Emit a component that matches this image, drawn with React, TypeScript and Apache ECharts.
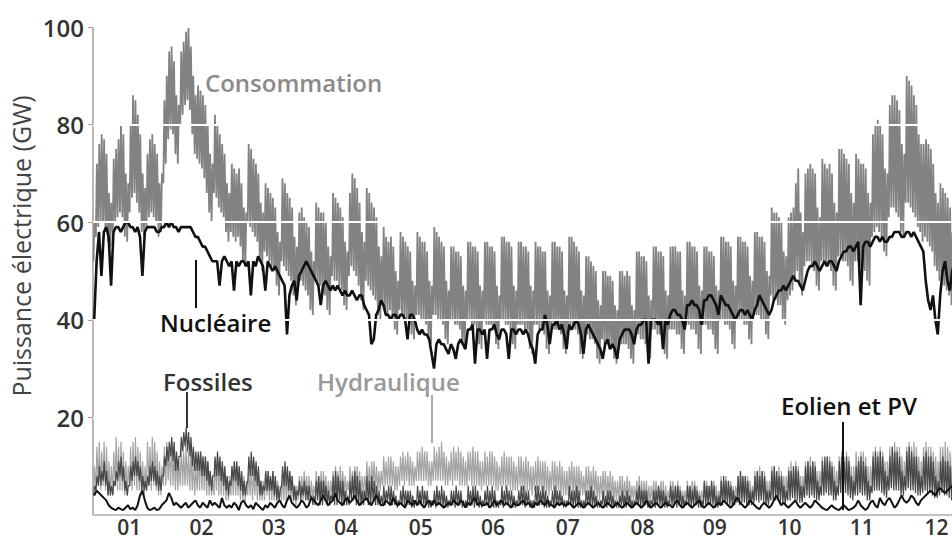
import React, { useEffect, useRef } from "react";
import * as echarts from "echarts";

// ---- axis labels ----
const monthLabels = ["01", "02", "03", "04", "05", "06", "07", "08", "09", "10", "11", "12"];
const monthMidDays = [15, 45, 75, 105, 136, 166, 197, 228, 258, 289, 319, 350];
const gridValues = [20, 40, 60, 80, 100];

// ---- daily data (day 0 = 1 Jan, then rows Mon..Sun) ----
const consHi = [60,
  72, 76, 78, 77, 74, 66, 64,
  73, 75, 77, 80, 78, 70, 68,
  80, 86, 85, 82, 78, 70, 67,
  74, 77, 78, 76, 74, 68, 70,
  85, 90, 95, 96, 93, 86, 84,
  95, 97, 99, 100, 96, 90, 86,
  88, 87, 86, 84, 80, 74, 72,
  82, 80, 78, 76, 74, 68, 66,
  72, 71, 70, 71, 68, 63, 62,
  76, 75, 73, 72, 70, 64, 62,
  68, 67, 66, 65, 63, 58, 56,
  69, 68, 66, 65, 63, 57, 55,
  62, 63, 61, 60, 59, 54, 52,
  64, 63, 62, 62, 60, 55, 53,
  66, 65, 64, 63, 61, 56, 54,
  66, 70, 69, 67, 64, 58, 56,
  67, 66, 64, 63, 61, 55, 53,
  59, 57, 56, 57, 55, 50, 48,
  58, 57, 56, 55, 54, 48, 47,
  58, 57, 56, 56, 54, 48, 47,
  59, 58, 57, 56, 55, 48, 46,
  55, 55, 54, 54, 53, 47, 46,
  56, 56, 55, 55, 54, 47, 46,
  56, 56, 55, 55, 54, 47, 45,
  57, 57, 56, 56, 55, 47, 46,
  56, 56, 55, 55, 54, 47, 46,
  56, 55, 55, 54, 54, 46, 45,
  56, 56, 55, 55, 54, 46, 45,
  57, 57, 56, 55, 54, 46, 45,
  53, 53, 52, 51, 50, 44, 43,
  50, 50, 49, 49, 48, 43, 42,
  50, 50, 49, 50, 49, 43, 42,
  54, 54, 53, 53, 52, 45, 44,
  55, 55, 54, 54, 53, 46, 45,
  55, 55, 55, 54, 54, 46, 45,
  56, 56, 55, 55, 54, 47, 46,
  55, 55, 54, 54, 53, 47, 46,
  57, 57, 56, 56, 55, 48, 47,
  57, 57, 56, 56, 55, 49, 48,
  58, 58, 57, 57, 56, 50, 49,
  63, 62, 62, 61, 60, 54, 53,
  61, 62, 63, 68, 71, 62, 58,
  70, 71, 72, 71, 70, 63, 61,
  73, 72, 71, 72, 70, 64, 62,
  75, 75, 74, 73, 72, 66, 64,
  74, 73, 72, 72, 71, 66, 64,
  78, 80, 81, 80, 78, 71, 70,
  84, 86, 86, 85, 83, 76, 74,
  90, 89, 88, 86, 84, 78, 76,
  76, 77, 76, 75, 72, 66, 64,
  68, 67, 66, 65, 63, 58, 56];

const consLo = [52,
  57, 59, 60, 60, 58, 56, 55,
  58, 60, 61, 62, 61, 57, 56,
  62, 65, 66, 64, 62, 58, 57,
  59, 61, 62, 61, 60, 57, 58,
  68, 72, 77, 79, 78, 74, 72,
  80, 82, 84, 85, 83, 78, 74,
  73, 72, 71, 69, 66, 62, 60,
  66, 65, 63, 62, 61, 58, 56,
  58, 57, 56, 57, 55, 52, 51,
  60, 59, 58, 57, 56, 52, 50,
  54, 53, 52, 51, 50, 47, 45,
  52, 51, 50, 49, 48, 45, 43,
  47, 48, 47, 46, 45, 42, 41,
  48, 47, 47, 46, 45, 42, 41,
  49, 48, 48, 47, 46, 43, 42,
  49, 51, 50, 49, 47, 44, 42,
  48, 47, 46, 45, 44, 41, 40,
  43, 42, 41, 42, 41, 38, 37,
  42, 41, 40, 40, 39, 37, 36,
  41, 41, 40, 40, 39, 36, 35,
  41, 41, 40, 40, 39, 36, 35,
  40, 40, 39, 39, 38, 35, 34,
  40, 40, 39, 39, 38, 35, 34,
  40, 39, 39, 39, 38, 35, 34,
  40, 40, 39, 39, 38, 35, 34,
  39, 39, 39, 38, 38, 34, 33,
  39, 39, 38, 38, 37, 34, 33,
  39, 38, 38, 38, 37, 34, 33,
  39, 39, 38, 38, 37, 33, 32,
  37, 37, 36, 36, 35, 32, 31,
  36, 35, 35, 35, 34, 32, 31,
  36, 35, 35, 35, 34, 32, 31,
  37, 37, 36, 36, 35, 33, 32,
  38, 38, 37, 37, 36, 33, 32,
  38, 38, 38, 37, 37, 34, 33,
  39, 39, 38, 38, 37, 34, 33,
  39, 39, 38, 38, 37, 34, 33,
  40, 40, 39, 39, 38, 35, 34,
  41, 40, 40, 39, 39, 36, 35,
  42, 41, 41, 40, 40, 37, 36,
  45, 44, 44, 43, 43, 40, 39,
  44, 45, 46, 48, 50, 47, 45,
  51, 52, 52, 51, 50, 47, 46,
  52, 52, 51, 51, 50, 47, 46,
  53, 53, 52, 52, 51, 48, 47,
  52, 52, 51, 51, 50, 48, 47,
  57, 58, 59, 58, 57, 54, 53,
  61, 63, 63, 62, 61, 58, 57,
  64, 64, 63, 62, 61, 59, 58,
  56, 57, 56, 55, 54, 51, 50,
  48, 48, 47, 46, 45, 43, 41];

const nuclear = [40,
  52, 58, 49, 58, 59, 57, 47,
  58, 59, 59, 58, 59, 60, 60,
  59, 59, 58, 59, 57, 49, 58,
  59, 59, 59, 59, 58, 58, 59,
  59, 60, 59, 60, 59, 59, 58,
  59, 59, 59, 59, 59, 58, 57,
  57, 56, 55, 55, 54, 53, 52,
  52, 52, 47, 52, 53, 52, 51,
  52, 46, 52, 51, 52, 52, 51,
  52, 45, 52, 51, 53, 52, 51,
  46, 52, 51, 50, 51, 50, 49,
  48, 47, 37, 45, 47, 48, 44,
  49, 50, 51, 52, 51, 50, 49,
  48, 47, 43, 47, 48, 47, 46,
  47, 46, 47, 46, 45, 46, 45,
  45, 46, 45, 44, 45, 45, 43,
  42, 41, 35, 36, 41, 42, 44,
  43, 41, 41, 40, 41, 41, 40,
  41, 41, 40, 36, 41, 41, 40,
  38, 37, 38, 37, 37, 36, 33,
  30, 35, 36, 35, 35, 34, 33,
  35, 34, 32, 35, 36, 35, 34,
  38, 38, 39, 31, 38, 38, 37,
  38, 32, 38, 38, 39, 37, 36,
  38, 38, 37, 32, 38, 38, 37,
  38, 38, 37, 38, 37, 35, 34,
  31, 37, 38, 38, 41, 39, 35,
  39, 39, 40, 38, 39, 37, 34,
  39, 38, 39, 40, 39, 37, 33,
  38, 39, 38, 37, 36, 35, 34,
  32, 35, 36, 34, 35, 34, 32,
  36, 37, 38, 38, 38, 37, 35,
  38, 39, 39, 40, 40, 31, 40,
  40, 40, 39, 40, 34, 40, 39,
  41, 42, 42, 41, 41, 40, 38,
  43, 43, 44, 43, 43, 42, 39,
  44, 44, 45, 45, 44, 43, 41,
  45, 44, 43, 43, 42, 41, 40,
  41, 42, 42, 41, 42, 41, 40,
  42, 43, 45, 44, 43, 42, 41,
  42, 44, 45, 46, 46, 47, 46,
  47, 48, 49, 48, 48, 47, 46,
  48, 50, 51, 51, 52, 51, 50,
  51, 52, 51, 52, 52, 51, 50,
  52, 53, 54, 54, 55, 55, 54,
  55, 56, 43, 55, 56, 56, 55,
  56, 57, 57, 56, 57, 56, 56,
  57, 57, 58, 58, 58, 57, 57,
  58, 58, 57, 58, 57, 56, 55,
  54, 48, 44, 42, 45, 40, 37,
  45, 50, 52, 48, 46, 50, 52];

const hydroHi = [10,
  14, 15, 13, 15, 14, 11, 10,
  13, 16, 14, 15, 13, 11, 10,
  14, 15, 16, 14, 13, 11, 10,
  15, 14, 16, 15, 13, 11, 10,
  14, 15, 14, 15, 13, 12, 11,
  14, 13, 14, 13, 13, 11, 10,
  12, 13, 12, 12, 11, 9, 8,
  11, 12, 11, 10, 10, 8, 8,
  10, 11, 10, 10, 9, 8, 7,
  9, 10, 9, 10, 9, 7, 7,
  9, 9, 8, 9, 8, 7, 6,
  8, 9, 8, 8, 8, 6, 6,
  8, 8, 9, 8, 8, 7, 6,
  9, 8, 9, 9, 8, 7, 7,
  9, 10, 9, 10, 9, 8, 7,
  10, 9, 10, 10, 9, 8, 8,
  11, 10, 11, 11, 10, 9, 9,
  12, 11, 12, 12, 11, 10, 10,
  12, 13, 12, 13, 12, 11, 10,
  13, 13, 14, 13, 13, 11, 11,
  14, 13, 14, 15, 13, 12, 11,
  13, 14, 13, 14, 13, 12, 11,
  13, 13, 14, 13, 13, 11, 11,
  13, 12, 13, 13, 12, 11, 10,
  12, 13, 12, 12, 12, 11, 10,
  12, 12, 11, 12, 11, 10, 10,
  11, 12, 11, 11, 11, 10, 9,
  11, 11, 10, 11, 10, 9, 9,
  10, 11, 10, 10, 10, 9, 8,
  10, 10, 9, 10, 9, 8, 8,
  9, 9, 8, 9, 8, 7, 7,
  8, 8, 7, 8, 7, 6, 6,
  7, 8, 7, 7, 7, 6, 6,
  7, 7, 6, 7, 7, 6, 5,
  7, 7, 6, 7, 6, 5, 5,
  7, 6, 7, 7, 6, 5, 5,
  7, 7, 6, 7, 7, 6, 5,
  8, 7, 8, 7, 7, 6, 6,
  8, 9, 8, 8, 8, 7, 6,
  9, 9, 10, 9, 9, 7, 7,
  10, 10, 9, 10, 9, 8, 8,
  10, 11, 10, 11, 10, 8, 8,
  11, 11, 12, 11, 11, 9, 9,
  12, 11, 12, 12, 11, 10, 9,
  12, 13, 12, 13, 12, 10, 10,
  13, 12, 13, 13, 12, 10, 10,
  13, 14, 13, 14, 13, 11, 11,
  14, 14, 15, 14, 14, 12, 11,
  14, 15, 14, 15, 14, 12, 11,
  14, 15, 14, 14, 13, 12, 11,
  14, 14, 15, 14, 13, 12, 11];

const hydroLo = [5,
  5, 6, 5, 6, 5, 4, 4,
  5, 6, 5, 5, 5, 4, 4,
  6, 5, 6, 5, 5, 4, 4,
  5, 6, 5, 6, 5, 4, 4,
  6, 6, 7, 6, 6, 5, 5,
  6, 6, 6, 6, 5, 5, 4,
  5, 5, 5, 5, 4, 4, 4,
  4, 5, 4, 4, 4, 3, 3,
  4, 4, 4, 4, 3, 3, 3,
  4, 4, 3, 4, 3, 3, 3,
  3, 4, 3, 3, 3, 3, 3,
  3, 3, 3, 3, 3, 3, 2,
  3, 4, 3, 4, 3, 3, 3,
  4, 4, 4, 4, 4, 3, 3,
  4, 4, 4, 5, 4, 4, 4,
  5, 4, 5, 5, 5, 4, 4,
  5, 5, 5, 6, 5, 5, 5,
  6, 6, 6, 6, 6, 5, 5,
  6, 7, 6, 7, 6, 6, 6,
  7, 7, 7, 7, 7, 6, 6,
  7, 7, 7, 7, 7, 6, 6,
  7, 6, 7, 7, 6, 6, 6,
  6, 7, 6, 6, 6, 6, 5,
  6, 6, 6, 6, 6, 5, 5,
  6, 6, 5, 6, 5, 5, 5,
  5, 6, 5, 5, 5, 5, 4,
  5, 5, 5, 5, 5, 4, 4,
  5, 5, 4, 5, 4, 4, 4,
  4, 5, 4, 4, 4, 4, 4,
  4, 4, 4, 4, 4, 3, 3,
  4, 4, 3, 4, 3, 3, 3,
  3, 3, 3, 3, 3, 3, 3,
  3, 3, 3, 3, 3, 2, 2,
  3, 3, 3, 3, 3, 2, 2,
  3, 3, 3, 3, 3, 2, 2,
  3, 3, 3, 3, 3, 2, 2,
  3, 3, 3, 3, 3, 3, 2,
  3, 3, 3, 3, 3, 3, 3,
  4, 3, 4, 4, 3, 3, 3,
  4, 4, 4, 4, 4, 3, 3,
  4, 4, 4, 4, 4, 4, 3,
  4, 5, 4, 5, 4, 4, 4,
  5, 5, 5, 5, 5, 4, 4,
  5, 5, 5, 5, 5, 4, 4,
  5, 5, 5, 6, 5, 5, 4,
  5, 6, 5, 5, 5, 5, 4,
  6, 5, 6, 6, 5, 5, 5,
  6, 6, 6, 6, 6, 5, 5,
  6, 6, 6, 6, 6, 5, 5,
  6, 6, 5, 6, 6, 5, 5,
  5, 6, 5, 5, 5, 5, 5];

const fossilHi = [6,
  8, 10, 9, 11, 9, 7, 6,
  7, 9, 11, 12, 10, 7, 6,
  10, 11, 12, 11, 10, 8, 7,
  8, 10, 11, 10, 9, 8, 8,
  12, 14, 15, 16, 15, 13, 12,
  16, 17, 18, 17, 16, 14, 13,
  13, 13, 12, 12, 11, 9, 8,
  12, 13, 12, 11, 10, 8, 7,
  10, 11, 11, 10, 9, 7, 6,
  12, 13, 12, 11, 10, 7, 6,
  9, 9, 8, 9, 8, 6, 5,
  10, 11, 10, 9, 8, 6, 5,
  7, 6, 7, 6, 6, 4, 4,
  7, 8, 7, 7, 6, 5, 4,
  8, 9, 8, 7, 7, 5, 4,
  7, 8, 9, 8, 7, 5, 5,
  8, 7, 8, 7, 6, 5, 4,
  6, 5, 6, 6, 5, 4, 3,
  5, 6, 5, 5, 5, 4, 3,
  6, 5, 6, 5, 5, 3, 3,
  5, 6, 5, 6, 5, 4, 3,
  5, 5, 6, 5, 5, 3, 3,
  6, 5, 6, 6, 5, 4, 3,
  5, 6, 5, 6, 5, 3, 3,
  6, 5, 6, 5, 5, 4, 3,
  5, 6, 6, 5, 5, 3, 3,
  6, 6, 5, 6, 5, 4, 3,
  5, 6, 5, 5, 4, 3, 3,
  6, 5, 5, 6, 5, 3, 3,
  5, 5, 6, 5, 4, 3, 3,
  5, 4, 5, 5, 4, 3, 3,
  4, 5, 4, 5, 4, 3, 3,
  5, 6, 5, 5, 5, 3, 3,
  5, 5, 6, 5, 5, 4, 3,
  6, 5, 6, 6, 5, 4, 3,
  6, 6, 5, 6, 5, 4, 3,
  7, 6, 6, 7, 6, 4, 4,
  7, 8, 7, 7, 6, 5, 4,
  8, 9, 8, 8, 7, 5, 5,
  8, 9, 8, 9, 8, 5, 5,
  9, 10, 9, 8, 8, 6, 5,
  9, 9, 10, 10, 9, 6, 6,
  10, 11, 10, 11, 10, 7, 6,
  11, 12, 12, 11, 10, 7, 6,
  11, 12, 11, 12, 11, 8, 7,
  10, 11, 12, 11, 10, 7, 6,
  12, 13, 12, 13, 12, 9, 8,
  12, 14, 13, 13, 12, 9, 8,
  13, 14, 13, 12, 12, 9, 8,
  12, 13, 12, 12, 11, 8, 7,
  11, 12, 11, 11, 10, 7, 6];

const fossilLo = [4,
  5, 6, 6, 7, 6, 4, 4,
  4, 6, 7, 8, 7, 5, 4,
  6, 7, 8, 8, 7, 5, 5,
  5, 6, 7, 7, 6, 5, 5,
  8, 10, 11, 12, 11, 9, 9,
  12, 13, 14, 13, 12, 10, 9,
  9, 9, 8, 8, 7, 6, 5,
  8, 8, 8, 7, 6, 5, 4,
  6, 7, 7, 6, 5, 4, 4,
  7, 8, 8, 7, 6, 4, 4,
  5, 5, 5, 5, 4, 3, 3,
  6, 6, 6, 5, 5, 3, 3,
  4, 3, 4, 3, 3, 3, 2,
  2, 3, 2, 2, 3, 2, 2,
  3, 2, 2, 3, 2, 2, 2,
  2, 3, 3, 2, 2, 2, 2,
  3, 2, 2, 3, 2, 2, 2,
  2, 2, 3, 2, 2, 2, 1.5,
  2, 2, 2, 2, 2, 1.5, 1.5,
  2, 2, 2, 2, 2, 1.5, 1.5,
  2, 1.5, 2, 2, 1.5, 1.5, 1.5,
  2, 2, 1.5, 2, 2, 1.5, 1.5,
  1.5, 2, 2, 1.5, 2, 1.5, 1.5,
  2, 2, 1.5, 2, 1.5, 1.5, 1.5,
  2, 1.5, 2, 2, 2, 1.5, 1.5,
  2, 2, 2, 1.5, 2, 1.5, 1.5,
  1.5, 2, 2, 2, 1.5, 1.5, 1.5,
  2, 1.5, 2, 2, 2, 1.5, 1.5,
  2, 2, 1.5, 2, 1.5, 1.5, 1.5,
  1.5, 2, 2, 1.5, 2, 1.5, 1.5,
  2, 1.5, 1.5, 2, 1.5, 1.5, 1.5,
  1.5, 2, 1.5, 1.5, 2, 1.5, 1.5,
  2, 2, 1.5, 2, 2, 1.5, 1.5,
  2, 1.5, 2, 2, 1.5, 1.5, 1.5,
  2, 2, 2, 1.5, 2, 1.5, 1.5,
  2, 2, 1.5, 2, 2, 1.5, 1.5,
  2, 2, 2, 2, 2, 1.5, 1.5,
  2, 2, 2.5, 2, 2, 2, 2,
  2.5, 2, 2.5, 2.5, 2, 2, 2,
  2.5, 3, 2.5, 3, 2.5, 2, 2,
  3, 3, 3, 3, 2.5, 2.5, 2,
  3, 3, 3.5, 3, 3, 2.5, 2.5,
  3.5, 4, 3.5, 4, 3.5, 3, 3,
  4, 4, 4.5, 4, 4, 3, 3,
  4, 4.5, 4, 4.5, 4, 3.5, 3,
  4, 4, 4.5, 4, 4, 3, 3,
  4.5, 5, 5, 5, 4.5, 4, 3.5,
  5, 5.5, 5, 5, 5, 4, 4,
  5, 5.5, 5, 5, 4.5, 4, 4,
  4.5, 5, 4.5, 4.5, 4, 3.5, 3.5,
  4, 4.5, 4, 4, 3.5, 3, 3];

const windSolar = [4,
  5, 4.5, 4, 3.5, 3, 2, 1.5,
  1.2, 1, 1.5, 1.2, 1, 1.5, 2,
  1.2, 1.5, 1, 2, 4, 5, 3,
  1.5, 1, 1.2, 1.5, 1, 1.2, 2,
  2.5, 3, 4.5, 3.5, 2, 2.5, 2,
  1.5, 2, 2.5, 1.5, 2, 2.5, 3,
  2, 1.5, 2.5, 2, 1.5, 3, 2,
  2.5, 2, 1.5, 3.5, 2, 1.5, 2,
  1.5, 2.5, 2, 1, 2.5, 3, 2,
  1.5, 2, 1.2, 2.5, 2, 1.5, 1,
  2, 1.5, 2.5, 2, 1.5, 2.5, 3,
  2, 1.5, 3, 4, 2.5, 2, 1.5,
  2, 3, 2.5, 1.5, 2, 3.5, 3,
  2.5, 2, 3, 4, 3, 2, 2.5,
  3, 4.5, 3, 2.5, 2, 3, 3.5,
  2.5, 3, 4, 3, 2, 2.5, 3,
  3.5, 2.5, 2, 3, 4, 3, 2,
  2, 3, 2.5, 2, 3.5, 2.5, 2,
  2.5, 2, 1.5, 3, 2.5, 2, 3,
  2, 3, 2, 1.5, 2.5, 3, 2,
  3, 2, 2.5, 2, 1.5, 2, 2.5,
  2, 3, 2.5, 2, 3, 2.5, 1.5,
  2.5, 2, 3, 3.5, 2, 2.5, 2,
  2, 2.5, 1.5, 2, 3, 2, 2.5,
  3, 2, 2.5, 2, 1.5, 2.5, 2,
  2, 2.5, 3, 2, 2.5, 2, 1.5,
  2.5, 2, 3, 2.5, 2, 3, 2,
  2, 1.5, 2.5, 2, 2.5, 2, 2,
  2.5, 2, 1.5, 2, 2.5, 2, 1.5,
  2, 2.5, 2, 1.5, 2, 2.5, 2,
  1.5, 2, 2.5, 2, 1.5, 2, 2.5,
  2, 1.5, 2, 2.5, 2, 1.5, 2,
  2.5, 2, 1.5, 2, 3, 2, 1.5,
  2, 2.5, 2, 1.5, 2, 2.5, 2,
  2, 1.5, 2.5, 3, 2, 1.5, 2,
  2.5, 2, 1.5, 2, 2.5, 3, 2,
  1.5, 2, 2.5, 2, 1.5, 2, 2.5,
  2, 3, 2.5, 2, 1.5, 2, 3,
  3.5, 2.5, 2, 1.5, 2, 3, 2.5,
  2, 1.5, 1.2, 2, 2.5, 2, 1.5,
  2, 3, 4, 3, 2, 2.5, 2,
  1.5, 2, 2.5, 3, 2, 1.5, 2,
  2.5, 2, 1.5, 2, 3, 2.5, 2,
  1.5, 1.2, 1, 1.5, 2, 1.5, 1.2,
  1, 1.5, 2, 1.5, 1, 1.2, 1.5,
  2, 3, 2, 1.5, 1, 1.5, 2.5,
  3, 2, 1.5, 3.5, 2.5, 2, 3,
  3.5, 2.5, 1.5, 2, 3, 4, 3,
  2.5, 3, 4, 3.5, 2.5, 2, 3,
  3.5, 4, 4.5, 5, 4.5, 4, 5,
  5.5, 5, 4.5, 5, 5.5, 6, 5.5];

const FONT = "'Open Sans', sans-serif";

function dayPairs(lo: number[], hi: number[], tLo: number, tHi: number) {
  const out: number[][] = [];
  const n = Math.min(lo.length, hi.length);
  for (let d = 0; d < n; d++) {
    out.push([d + tLo, lo[d]]);
    out.push([d + tHi, hi[d]]);
  }
  return out;
}

function daily(v: number[], t: number) {
  return v.map((y, d) => [d + t, y]);
}

export default function App() {
  const ref = useRef<HTMLDivElement>(null);

  useEffect(() => {
    if (!ref.current) return;
    const chart = echarts.init(ref.current, undefined, { renderer: "svg" });
    const lineBase = { type: "line", showSymbol: false, symbol: "none", silent: true, clip: true };
    const labelStyle = (text: string, fill: string) => ({
      text,
      fill,
      fontSize: 24,
      fontWeight: 600,
      fontFamily: FONT,
      align: "left",
      verticalAlign: "middle",
    });
    chart.setOption({
      animation: false,
      backgroundColor: "#ffffff",
      grid: { left: 93, right: 0, top: 27, bottom: 27, containLabel: false },
      xAxis: {
        type: "value",
        min: 0,
        max: 356.4,
        axisLine: { show: true, lineStyle: { color: "#c2c2c2", width: 2 } },
        axisTick: { show: false },
        splitLine: { show: false },
        axisLabel: {
          customValues: monthMidDays,
          formatter: (v: number) => {
            const i = monthMidDays.indexOf(Math.round(v));
            return i >= 0 ? monthLabels[i] : "";
          },
          fontSize: 21,
          lineHeight: 21,
          fontWeight: 600,
          fontFamily: FONT,
          color: "#333",
          margin: 1,
        },
      },
      yAxis: {
        type: "value",
        min: 0,
        max: 100,
        interval: 20,
        axisLine: { show: true, lineStyle: { color: "#a0a0a0", width: 1.5 } },
        axisTick: { show: true, length: 5, lineStyle: { color: "#a0a0a0" } },
        splitLine: { show: false },
        axisLabel: {
          showMinLabel: false,
          formatter: (v: number) => (v === 0 ? "" : String(v)),
          fontSize: 24,
          fontWeight: 600,
          fontFamily: FONT,
          color: "#333",
          margin: 9,
        },
      },
      series: [
        { ...lineBase, name: "Consommation", z: 2, data: dayPairs(consLo, consHi, 0.2, 0.6), lineStyle: { color: "#828282", width: 1.8 } },
        { ...lineBase, name: "Nucléaire", z: 3, data: daily(nuclear, 0.5), lineStyle: { color: "#111111", width: 2.6 } },
        { ...lineBase, name: "Hydraulique", z: 3, data: dayPairs(hydroLo, hydroHi, 0.2, 0.6), lineStyle: { color: "#a4a4a4", width: 1.2 } },
        { ...lineBase, name: "Fossiles", z: 4, data: dayPairs(fossilLo, fossilHi, 0.25, 0.65), lineStyle: { color: "#484848", width: 1.2 } },
        { ...lineBase, name: "Eolien et PV", z: 5, data: daily(windSolar, 0.5), lineStyle: { color: "#111111", width: 2 } },
        {
          ...lineBase,
          name: "grid",
          z: 10,
          data: [],
          markLine: {
            silent: true,
            symbol: ["none", "none"],
            label: { show: false },
            lineStyle: { color: "#ffffff", width: 2, type: "solid" },
            data: gridValues.map((v) => ({ yAxis: v })),
          },
        },
      ],
      graphic: [
        {
          type: "text",
          z: 100,
          x: 21,
          y: 246,
          rotation: Math.PI / 2,
          style: { text: "Puissance électrique (GW)", fill: "#444", fontSize: 25, fontFamily: FONT, align: "center", verticalAlign: "middle" },
        },
        { type: "text", z: 100, x: 205, y: 82, style: labelStyle("Consommation", "#8a8a8a") },
        { type: "text", z: 100, x: 160, y: 322, style: labelStyle("Nucléaire", "#111") },
        { type: "text", z: 100, x: 163, y: 381, style: labelStyle("Fossiles", "#333") },
        { type: "text", z: 100, x: 317, y: 381, style: labelStyle("Hydraulique", "#999") },
        { type: "text", z: 100, x: 781, y: 405, style: labelStyle("Eolien et PV", "#111") },
        { type: "line", z: 100, shape: { x1: 196, y1: 260, x2: 196, y2: 308 }, style: { stroke: "#111", lineWidth: 2 } },
        { type: "line", z: 100, shape: { x1: 187, y1: 392, x2: 187, y2: 428 }, style: { stroke: "#333", lineWidth: 2 } },
        { type: "line", z: 100, shape: { x1: 432, y1: 395, x2: 432, y2: 443 }, style: { stroke: "#aaa", lineWidth: 2 } },
        { type: "line", z: 100, shape: { x1: 843, y1: 422, x2: 843, y2: 510 }, style: { stroke: "#111", lineWidth: 2 } },
      ],
    });
    return () => chart.dispose();
  }, []);

  return (
    <div
      ref={ref}
      style={{ position: "fixed", left: 0, top: 0, width: 952, height: 542, background: "#fff" }}
    />
  );
}
